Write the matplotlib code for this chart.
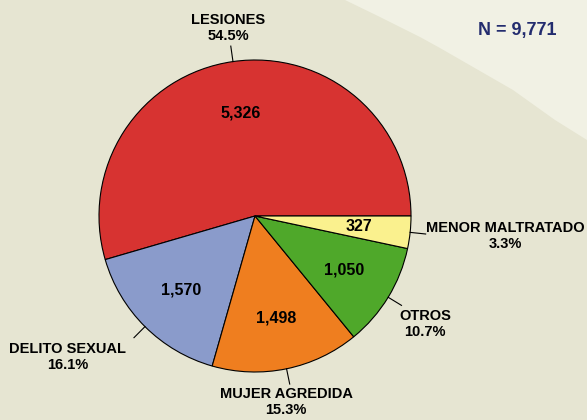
import numpy as np
import matplotlib
matplotlib.use("Agg")
import matplotlib.pyplot as plt
from matplotlib.patches import Polygon

# ---- data ----
categories = ["LESIONES", "DELITO SEXUAL", "MUJER AGREDIDA", "OTROS", "MENOR MALTRATADO"]
counts = [5326, 1570, 1498, 1050, 327]
count_labels = ["5,326", "1,570", "1,498", "1,050", "327"]
pct_labels = ["54.5%", "16.1%", "15.3%", "10.7%", "3.3%"]
total_label = "N = 9,771"

# ---- style ----
colors = ["#D73331", "#8A9BCB", "#EF7E1F", "#4FA82A", "#FAF18E"]
bg_dark = "#E6E5D2"
bg_light = "#F1F1E4"
font = "Liberation Sans"

W, H = 587, 420
fig = plt.figure(figsize=(W / 100, H / 100), dpi=100, facecolor=bg_dark)

# light background region (figure pixel coords)
bg_pts = [(345, 0), (380, 17), (420, 37), (440, 48), (513, 90), (555, 120), (587, 140), (587, 0)]
poly = Polygon([(x / W, 1 - y / H) for x, y in bg_pts], closed=True,
               transform=fig.transFigure, facecolor=bg_light, edgecolor="none", zorder=0)
fig.patches.append(poly)

# pie axes: center (255,216) px, radius 156 px
cx, cy, R = 255, 216, 156
ax = fig.add_axes([(cx - R) / W, (H - cy - R) / H, 2 * R / W, 2 * R / H])
ax.set_facecolor("none")
wedges, _ = ax.pie(counts, colors=colors, startangle=0, counterclock=True, radius=1.0,
                   wedgeprops=dict(edgecolor="black", linewidth=0.8))
ax.set_xlim(-1, 1)
ax.set_ylim(-1, 1)
ax.set_aspect("equal")
ax.axis("off")

# outer label positions (in pie radius units)
label_pos = [(-0.173, 1.205), (-1.199, -0.904), (0.199, -1.192), (1.090, -0.692), (1.603, -0.128)]

for w, cnt, cat, pct, lp in zip(wedges, count_labels, categories, pct_labels, label_pos):
    mid = np.deg2rad((w.theta1 + w.theta2) / 2)
    c, s = np.cos(mid), np.sin(mid)
    ax.text(0.67 * c, 0.67 * s, cnt, ha="center", va="center", fontsize=11.5,
            fontweight="bold", family=font, color="black")
    ax.plot([1.0 * c, 1.1 * c], [1.0 * s, 1.1 * s], color="black", lw=0.8, clip_on=False)
    ax.text(lp[0], lp[1], cat + "\n" + pct, ha="center", va="center", fontsize=10.5,
            fontweight="bold", family=font, color="black", linespacing=1.1)

fig.text(517 / W, 1 - 30 / H, total_label, ha="center", va="center", fontsize=13,
         fontweight="bold", family=font, color="#232C6E")

fig.savefig("out.png", dpi=100, facecolor=bg_dark)
